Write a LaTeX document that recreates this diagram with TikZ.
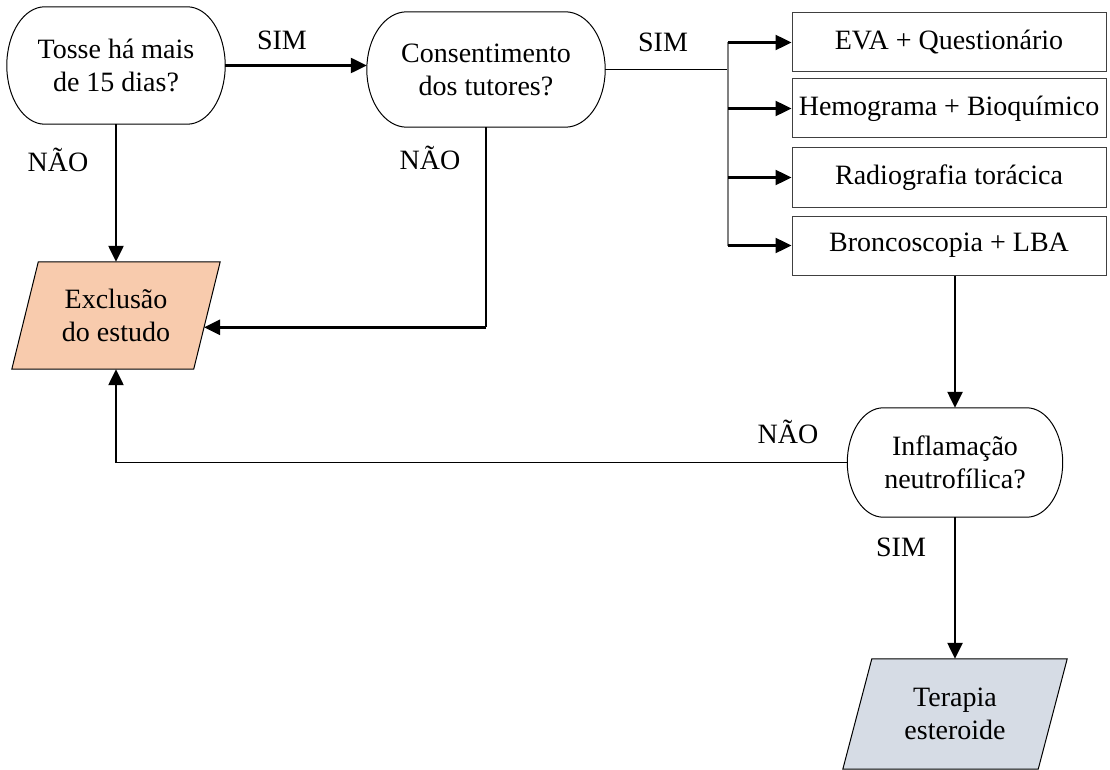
\documentclass[tikz,border=0pt]{standalone}
\usepackage{fontspec}
\setmainfont{Liberation Serif}
\usetikzlibrary{arrows.meta,calc,backgrounds}
\definecolor{peach}{HTML}{F8CBAD}
\definecolor{bluegrey}{HTML}{D6DCE5}
\tikzset{
  every node/.style={font=\fontsize{28}{33}\selectfont, align=center, inner sep=0pt},
  termnode/.style={draw=none, shape=rectangle},
  procbox/.style={draw=black!75, line width=1pt, minimum width=314pt, minimum height=59pt},
  paranode/.style={draw=none, shape=rectangle},
  outl/.style={draw=black, line width=1pt},
  thinline/.style={draw=black, line width=1.2pt},
  trunkline/.style={draw=black!50, line width=1.4pt},
  arrowline/.style={draw=black, line width=2.4pt, -{Triangle[length=16pt,width=15pt]}},
  lbl/.style={font=\fontsize{28}{33}\selectfont}
}
% elliptic-ended terminal outline: #1 node, #2 x radius
\newcommand\termoutline[2]{%
  \path let \p1=(#1.north), \p2=(#1.south), \n1={(\y1-\y2)/2} in
    [outl] ($(#1.north west)+(#2,0)$) -- ($(#1.north east)+(-#2,0)$)
    arc[start angle=90, end angle=-90, x radius=#2, y radius=\n1]
    -- ($(#1.south west)+(#2,0)$)
    arc[start angle=270, end angle=90, x radius=#2, y radius=\n1] -- cycle;}
\newcommand\paraoutline[3]{%
  \path[outl, fill=#3] (#1.north west) -- ([xshift=#2]#1.north east)
    -- (#1.south east) -- ([xshift=-#2]#1.south west) -- cycle;}
\begin{document}
\begin{tikzpicture}[x=1pt, y=1pt]
\useasboundingbox (0,0) rectangle (1110,-770);

% terminal (decision) nodes
\node[termnode, minimum width=218pt, minimum height=117pt] (tosse) at (116,-65.5) {Tosse há mais\\de 15 dias?};
\node[termnode, minimum width=238pt, minimum height=115pt] (consent) at (486,-69.5) {Consentimento\\dos tutores?};
\node[termnode, minimum width=215pt, minimum height=109pt] (inflam) at (955,-462.5) {Inflamação\\neutrofílica?};
\termoutline{tosse}{38pt}
\termoutline{consent}{40pt}
\termoutline{inflam}{36pt}

% process boxes
\node[procbox] (eva) at (949,-42.5) {EVA + Questionário};
\node[procbox] (hemo) at (949,-108.5) {Hemograma + Bioquímico};
\node[procbox] (radio) at (949,-177.5) {Radiografia torácica};
\node[procbox] (bronco) at (949,-245.5) {Broncoscopia + LBA};

% parallelograms
\node[paranode, minimum width=155pt, minimum height=107pt] (excl) at (116,-315.5) {Exclusão\\do estudo};
\node[paranode, minimum width=166pt, minimum height=110pt] (terapia) at (955,-714) {Terapia\\esteroide};
\begin{scope}[on background layer]
\fill[white] (0,0) rectangle (1110,-770);
\paraoutline{excl}{26.5pt}{peach}
\paraoutline{terapia}{29pt}{bluegrey}
\end{scope}

% connector helpers
\coordinate (tr) at (728,-69.5);
\coordinate (exin) at ($(excl.south east)!0.39!([xshift=26.5pt]excl.north east)$);

% Tosse -> Consentimento
\draw[arrowline] (tosse.east) -- (tosse.east -| consent.west);
\node[lbl] (sim1) at (282,-40) {SIM};
% Tosse -> Exclusão
\draw[arrowline] (tosse.south) -- (excl.north);
\node[lbl] (nao1) at (58,-160) {NÃO};

% Consentimento -> boxes
\draw[thinline] (consent.east) -- (tr);
\draw[trunkline] (eva.west -| tr) -- (bronco.west -| tr);
\draw[arrowline] (eva.west -| tr) -- (eva.west);
\draw[arrowline] (hemo.west -| tr) -- (hemo.west);
\draw[arrowline] (radio.west -| tr) -- (radio.west);
\draw[arrowline] (bronco.west -| tr) -- (bronco.west);
\node[lbl] (sim2) at (663,-42) {SIM};

% Consentimento -> Exclusão
\draw[thinline] (consent.south) -- (consent.south |- exin);
\draw[arrowline] (consent.south |- exin) -- (exin);
\node[lbl] (nao2) at (430,-158) {NÃO};

% Broncoscopia -> Inflamação
\draw[arrowline] (bronco.south -| inflam.north) -- (inflam.north);

% Inflamação -> Exclusão
\draw[thinline] (inflam.west) -- (inflam.west -| excl.south);
\draw[arrowline] (inflam.west -| excl.south) -- (excl.south);
\node[lbl] (nao3) at (788,-432) {NÃO};

% Inflamação -> Terapia
\draw[arrowline] (inflam.south) -- (terapia.north);
\node[lbl] (sim3) at (901,-547) {SIM};
\end{tikzpicture}
\end{document}
